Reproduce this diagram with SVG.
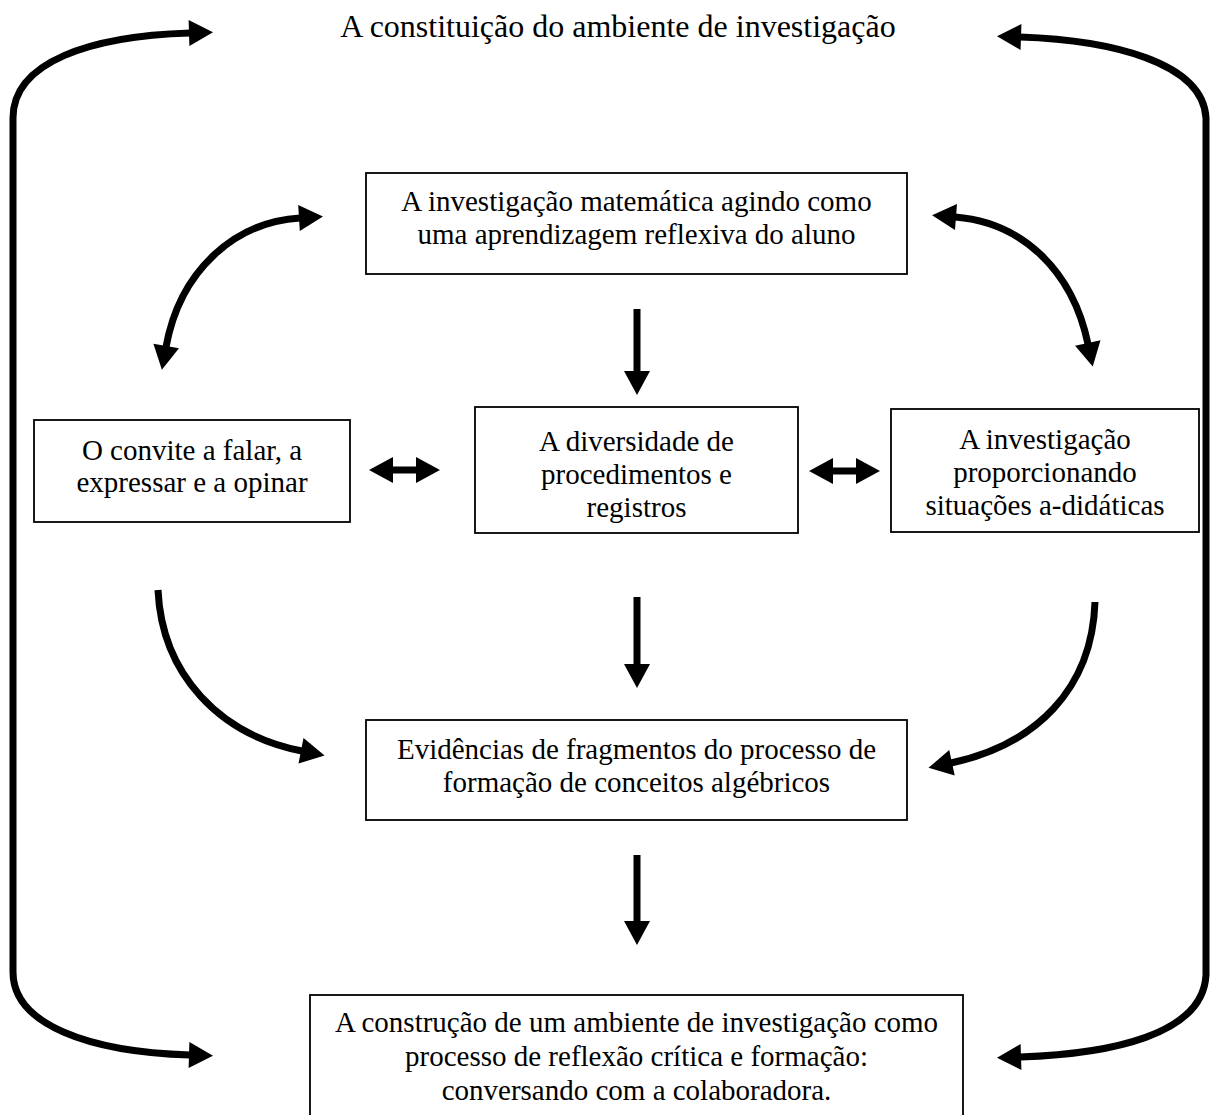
<svg xmlns="http://www.w3.org/2000/svg" width="1211" height="1115" viewBox="0 0 1211 1115">
<style>
.box{fill:#fff;stroke:#000;stroke-width:1.8}
.t{font-family:"Liberation Serif","Times New Roman",serif;font-size:29px;fill:#000;text-anchor:middle}
.title{font-size:32px}
.c{fill:none;stroke:#000;stroke-width:7}
.c2{marker-end:url(#ah)}
.c3{marker-start:url(#ah);marker-end:url(#ah)}
</style>
<defs>
<marker id="ah" markerUnits="userSpaceOnUse" markerWidth="25" markerHeight="26" viewBox="0 0 24 26" refX="1" refY="13" orient="auto-start-reverse">
<path d="M0,0 L24,13 L0,26 z" fill="#000"/>
</marker>
</defs>
<rect width="1211" height="1115" fill="#fff"/>
<g id="title">
<text class="t title" x="618" y="37">A constituição do ambiente de investigação</text>
</g>
<g id="n1">
<rect class="box" x="366" y="173" width="541" height="101"/>
<text class="t" x="636.5" y="211">A investigação matemática agindo como</text>
<text class="t" x="636.5" y="244">uma aprendizagem reflexiva do aluno</text>
</g>
<g id="n2">
<rect class="box" x="34" y="420" width="316" height="102"/>
<text class="t" x="192" y="460">O convite a falar, a</text>
<text class="t" x="192" y="492">expressar e a opinar</text>
</g>
<g id="n3">
<rect class="box" x="475" y="407" width="323" height="126"/>
<text class="t" x="636.5" y="451">A diversidade de</text>
<text class="t" x="636.5" y="484">procedimentos e</text>
<text class="t" x="636.5" y="517">registros</text>
</g>
<g id="n4">
<rect class="box" x="891" y="409" width="308" height="123"/>
<text class="t" x="1045" y="449">A investigação</text>
<text class="t" x="1045" y="482">proporcionando</text>
<text class="t" x="1045" y="515">situações a-didáticas</text>
</g>
<g id="n5">
<rect class="box" x="366" y="720" width="541" height="100"/>
<text class="t" x="636.5" y="759">Evidências de fragmentos do processo de</text>
<text class="t" x="636.5" y="792">formação de conceitos algébricos</text>
</g>
<g id="n6">
<rect class="box" x="310" y="995" width="653" height="130"/>
<text class="t" x="636.5" y="1032">A construção de um ambiente de investigação como</text>
<text class="t" x="636.5" y="1066">processo de reflexão crítica e formação:</text>
<text class="t" x="636.5" y="1100">conversando com a colaboradora.</text>
</g>
<g id="connectors">
<path class="c c3" d="M190,33 C90,36 13,62 13,118 L13,972 C13,1025 90,1052 190,1055"/>
<path class="c c3" d="M1020,37 C1110,40 1203,62 1206,118 L1206,975 C1203,1035 1110,1054 1020,1057"/>
<path class="c c3" d="M166,347 C180,270 235,222 300,218"/>
<path class="c c3" d="M955,217 C1020,222 1072,268 1088,344"/>
<path class="c c2" d="M637,309 L637,372"/>
<path class="c c2" d="M637,597 L637,665"/>
<path class="c c2" d="M637,855 L637,922"/>
<path class="c c3" d="M392,470 L417,470"/>
<path class="c c3" d="M832,471 L857,471"/>
<path class="c c2" d="M158,590 C162,675 220,735 302,751"/>
<path class="c c2" d="M1095,602 C1092,690 1035,745 951,763"/>
</g>
</svg>
